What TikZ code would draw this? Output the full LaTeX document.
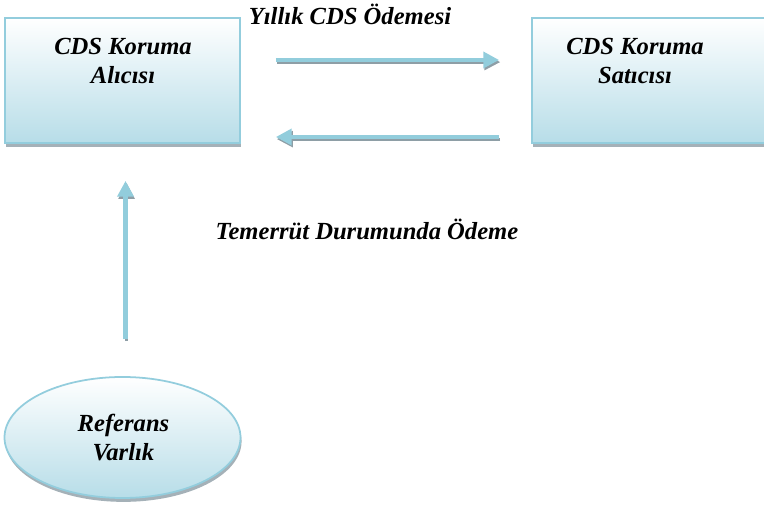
\documentclass[tikz,border=0pt]{standalone}
\usepackage{fontspec}
\setmainfont{Liberation Serif}[BoldItalicFont={Liberation Serif Bold Italic}]
\usetikzlibrary{arrows.meta,shadows,shapes.geometric}
\definecolor{cdsline}{HTML}{93CDDD}
\definecolor{cdsfill}{HTML}{B7DDE8}
\definecolor{cdsarrow}{HTML}{92CDDC}
\definecolor{cdsgray}{HTML}{8E9EA6}
\begin{document}
\begin{tikzpicture}
[font=\fontsize{14}{16}\selectfont\bfseries\itshape,
party/.style={rectangle, draw=cdsline, line width=1pt, top color=white, bottom color=cdsfill,
  minimum width=4.7cm, minimum height=2.5cm, inner sep=0pt,
  drop shadow={shadow xshift=0.6pt, shadow yshift=-2.2pt, fill=cdsgray, opacity=0.8}},
entity/.style={ellipse, draw=cdsline, line width=1pt, top color=white, bottom color=cdsfill,
  minimum width=4.72cm, minimum height=2.42cm, inner sep=0pt,
  drop shadow={shadow xshift=0.6pt, shadow yshift=-2.2pt, fill=cdsgray, opacity=0.8}},
lbl/.style={align=center, inner sep=0pt},
flow/.style={draw=cdsarrow, line width=2.4pt, -{Triangle[length=9pt, width=9pt]},
  preaction={draw=cdsgray, line width=1.6pt, -{Triangle[length=9pt, width=9pt]}, transform canvas={yshift=-1.2pt, xshift=0.6pt}}}]

\useasboundingbox (0,0) rectangle (15.28,10.2);

\node[party] (buyer) at (2.45,8.59) {};
\node[lbl] (buyertext) at (2.46,8.98) {CDS Koruma\\Alıcısı};

\begin{scope}
\clip (0,0) rectangle (15.28,10.2);
\node[party] (seller) at (12.99,8.59) {};
\end{scope}
\node[lbl] (sellertext) at (12.70,8.98) {CDS Koruma\\Satıcısı};

\node[entity] (refentity) at (2.45,1.45) {};
\node[lbl] (refentitytext) at (2.47,1.45) {Referans\\Varlık};

\draw[flow, shorten <=0.7cm, shorten >=0.64cm] ([yshift=0.41cm]buyer.east) -- ([yshift=0.41cm]seller.west);
\draw[flow, shorten <=0.64cm, shorten >=0.7cm] ([yshift=-1.13cm]seller.west) -- ([yshift=-1.13cm]buyer.east);
\draw[flow, shorten <=0.74cm, shorten >=0.74cm] ([xshift=0.06cm]refentity.north) -- ([xshift=0.06cm]buyer.south);

\node[lbl] (premium) at (7.00,9.92) {Yıllık CDS Ödemesi};
\node[lbl] (default) at (7.34,5.62) {Temerrüt Durumunda Ödeme};
\end{tikzpicture}
\end{document}
